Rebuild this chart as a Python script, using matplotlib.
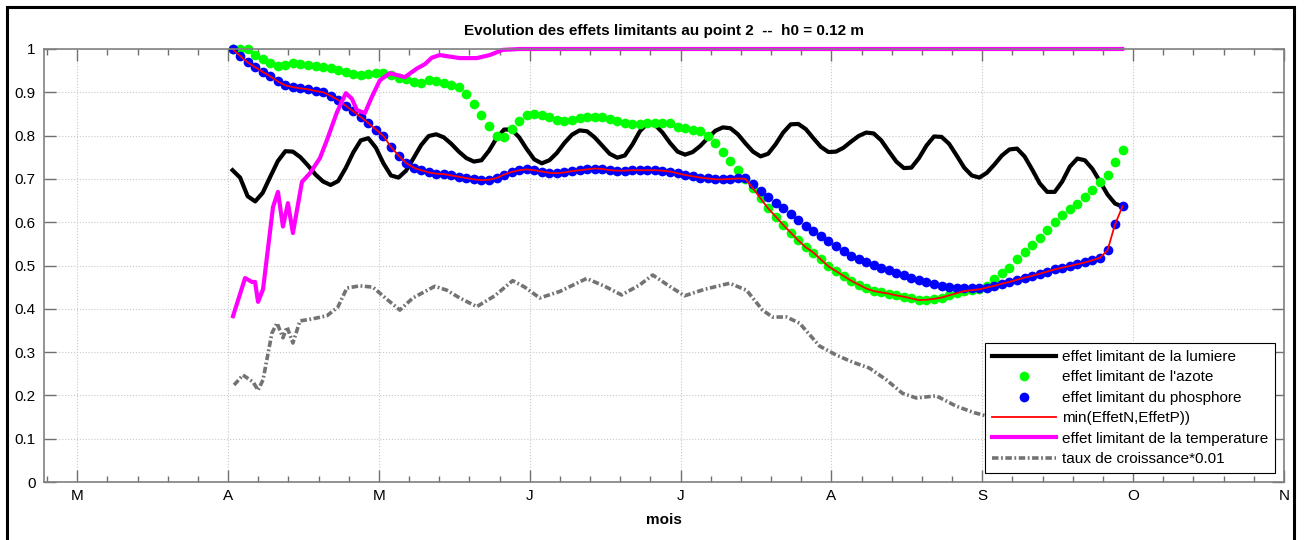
import numpy as np
import matplotlib
matplotlib.use("Agg")
import matplotlib.pyplot as plt
from matplotlib.ticker import MultipleLocator
from matplotlib.patches import Rectangle

plt.rcParams['font.family'] = ['Liberation Sans', 'DejaVu Sans']

# axe des temps en mois : 3 = mars ... 11 = novembre
mois_pos = [3, 4, 5, 6, 7, 8, 9, 10, 11]
mois_lab = ['M', 'A', 'M', 'J', 'J', 'A', 'S', 'O', 'N']
y_pos = [0, 0.1, 0.2, 0.3, 0.4, 0.5, 0.6, 0.7, 0.8, 0.9, 1.0]
y_lab = ['0', '0.1', '0.2', '0.3', '0.4', '0.5', '0.6', '0.7', '0.8', '0.9', '1']

# pas de temps commun (0.05 mois) pour lumiere, azote, phosphore
t = 4.03 + 0.05 * np.arange(119)

lumiere = [0.720, 0.703, 0.660, 0.648, 0.668, 0.705, 0.741, 0.764, 0.763, 0.750,
           0.731, 0.710, 0.694, 0.686, 0.695, 0.725, 0.761, 0.789, 0.794, 0.772,
           0.736, 0.708, 0.703, 0.719, 0.748, 0.778, 0.799, 0.803, 0.796, 0.781,
           0.763, 0.748, 0.740, 0.743, 0.765, 0.794, 0.814, 0.814, 0.796, 0.769,
           0.745, 0.736, 0.743, 0.760, 0.783, 0.802, 0.812, 0.810, 0.796, 0.777,
           0.758, 0.749, 0.754, 0.779, 0.810, 0.828, 0.825, 0.807, 0.783, 0.763,
           0.756, 0.762, 0.776, 0.794, 0.811, 0.819, 0.817, 0.803, 0.782, 0.763,
           0.752, 0.758, 0.780, 0.807, 0.826, 0.827, 0.815, 0.794, 0.774, 0.762,
           0.763, 0.772, 0.786, 0.799, 0.807, 0.805, 0.789, 0.764, 0.740, 0.725,
           0.726, 0.748, 0.777, 0.798, 0.797, 0.781, 0.754, 0.726, 0.708, 0.703,
           0.714, 0.733, 0.754, 0.768, 0.770, 0.752, 0.722, 0.690, 0.670, 0.670,
           0.694, 0.728, 0.747, 0.743, 0.723, 0.694, 0.664, 0.643, 0.636]

azote = [1.000, 1.000, 1.000, 0.985, 0.978, 0.968, 0.961, 0.963, 0.968, 0.965,
         0.962, 0.960, 0.958, 0.956, 0.952, 0.946, 0.942, 0.941, 0.942, 0.944,
         0.945, 0.940, 0.934, 0.930, 0.924, 0.922, 0.928, 0.926, 0.922, 0.918,
         0.912, 0.897, 0.873, 0.848, 0.822, 0.798, 0.796, 0.815, 0.833, 0.848,
         0.851, 0.848, 0.842, 0.837, 0.834, 0.837, 0.840, 0.842, 0.843, 0.842,
         0.838, 0.834, 0.829, 0.826, 0.827, 0.828, 0.829, 0.829, 0.828, 0.821,
         0.817, 0.812, 0.810, 0.800, 0.782, 0.762, 0.742, 0.720, 0.700, 0.678,
         0.655, 0.632, 0.613, 0.594, 0.576, 0.558, 0.542, 0.530, 0.514, 0.498,
         0.487, 0.476, 0.465, 0.456, 0.447, 0.441, 0.438, 0.435, 0.431, 0.428,
         0.424, 0.420, 0.421, 0.423, 0.426, 0.431, 0.436, 0.441, 0.443, 0.445,
         0.452, 0.469, 0.482, 0.494, 0.514, 0.531, 0.547, 0.564, 0.581, 0.600,
         0.617, 0.630, 0.643, 0.659, 0.674, 0.692, 0.710, 0.740, 0.766]

phosphore = [1.000, 0.984, 0.969, 0.958, 0.947, 0.937, 0.925, 0.916, 0.912, 0.909,
             0.907, 0.903, 0.900, 0.892, 0.882, 0.869, 0.856, 0.843, 0.829, 0.814,
             0.799, 0.774, 0.754, 0.737, 0.726, 0.720, 0.715, 0.712, 0.711, 0.708,
             0.705, 0.702, 0.699, 0.697, 0.698, 0.702, 0.710, 0.716, 0.720, 0.722,
             0.720, 0.717, 0.714, 0.713, 0.715, 0.718, 0.720, 0.722, 0.724, 0.723,
             0.720, 0.719, 0.719, 0.720, 0.720, 0.720, 0.720, 0.719, 0.717, 0.713,
             0.709, 0.706, 0.703, 0.701, 0.699, 0.699, 0.700, 0.701, 0.703, 0.688,
             0.672, 0.658, 0.645, 0.632, 0.619, 0.606, 0.592, 0.580, 0.568, 0.556,
             0.545, 0.534, 0.523, 0.515, 0.508, 0.502, 0.495, 0.489, 0.483, 0.477,
             0.472, 0.467, 0.462, 0.457, 0.453, 0.451, 0.449, 0.448, 0.448, 0.448,
             0.449, 0.453, 0.458, 0.462, 0.467, 0.472, 0.476, 0.481, 0.486, 0.491,
             0.495, 0.499, 0.503, 0.507, 0.512, 0.518, 0.535, 0.595, 0.637]

t_temp = [4.033, 4.113, 4.159, 4.179, 4.199, 4.232, 4.298, 4.331, 4.364, 4.397,
          4.430, 4.490, 4.543, 4.609, 4.656, 4.722, 4.781, 4.821, 4.854, 4.907,
          4.954, 5.007, 5.073, 5.119, 5.172, 5.252, 5.305, 5.351, 5.404, 5.536,
          5.649, 5.735, 5.821, 5.934, 9.927]
temperature = [0.383, 0.471, 0.462, 0.462, 0.416, 0.445, 0.635, 0.670, 0.590, 0.644,
               0.575, 0.693, 0.713, 0.748, 0.790, 0.854, 0.898, 0.885, 0.859, 0.852,
               0.890, 0.928, 0.944, 0.940, 0.935, 0.955, 0.965, 0.980, 0.986, 0.979,
               0.979, 0.986, 0.998, 1.000, 1.000]

t_croiss = [4.040, 4.099, 4.166, 4.199, 4.232, 4.291, 4.325, 4.364, 4.391, 4.430,
            4.477, 4.563, 4.656, 4.728, 4.788, 4.874, 4.960, 5.060, 5.139, 5.225,
            5.371, 5.450, 5.536, 5.649, 5.768, 5.887, 5.967, 6.066, 6.199, 6.377,
            6.497, 6.609, 6.728, 6.815, 6.927, 7.026, 7.159, 7.325, 7.437, 7.543,
            7.609, 7.702, 7.788, 7.921, 8.033, 8.139, 8.252, 8.364, 8.470, 8.563,
            8.695, 8.828, 8.947, 9.113, 9.444, 9.775, 9.927]
croissance = [0.224, 0.247, 0.231, 0.212, 0.236, 0.344, 0.367, 0.333, 0.358, 0.321,
              0.372, 0.377, 0.384, 0.404, 0.448, 0.453, 0.450, 0.420, 0.397, 0.425,
              0.452, 0.443, 0.425, 0.405, 0.430, 0.465, 0.450, 0.425, 0.440, 0.470,
              0.452, 0.432, 0.455, 0.478, 0.452, 0.430, 0.445, 0.459, 0.443, 0.397,
              0.381, 0.381, 0.367, 0.314, 0.293, 0.277, 0.263, 0.236, 0.205, 0.194,
              0.199, 0.175, 0.160, 0.145, 0.125, 0.105, 0.095]

effet_min = np.minimum(azote, phosphore)

fig = plt.figure(figsize=(13.06, 5.4), dpi=100)
ax = fig.add_axes([44 / 1306, 1 - 482 / 540, 1240 / 1306, 433 / 540])

ax.plot(t, lumiere, color='black', lw=3, label='effet limitant de la lumiere', clip_on=False)
ax.plot(t, azote, 'o', color='#00ff00', ms=7, mew=0, label="effet limitant de l'azote", clip_on=False)
ax.plot(t, phosphore, 'o', color='#0000ff', ms=7, mew=0, label='effet limitant du phosphore', clip_on=False)
ax.plot(t, effet_min, color='red', lw=1.3, label='min(EffetN,EffetP))', clip_on=False)
ax.plot(t_temp, temperature, color='magenta', lw=3, label='effet limitant de la temperature', clip_on=False)
ax.plot(t_croiss, croissance, color='#737373', lw=2.6, ls=(0, (1.8, 0.7, 0.5, 0.7)),
        label='taux de croissance*0.01')

ax.set_xlim(2.78, 11)
ax.set_ylim(0, 1)
ax.set_xticks(mois_pos)
ax.set_xticklabels(mois_lab)
ax.set_yticks(y_pos)
ax.set_yticklabels(y_lab)
ax.xaxis.set_minor_locator(MultipleLocator(0.2))

ax.grid(True, which='major', ls=':', color='#c8c8c8', lw=0.8)
ax.tick_params(which='both', direction='in', top=True, right=True, color='#707070',
               labelsize=11, width=1)
ax.tick_params(which='major', length=8.8, pad=5)
ax.tick_params(which='minor', length=4.2)
ax.tick_params(axis='y', which='major', pad=6)
for s in ax.spines.values():
    s.set_color('#808080')
    s.set_linewidth(1.2)

ax.set_title('Evolution des effets limitants au point 2  --  h0 = 0.12 m',
             fontsize=11, fontweight='bold', pad=10)
ax.set_xlabel('mois', fontsize=11, fontweight='bold', labelpad=7)

leg = ax.legend(loc='lower right', bbox_to_anchor=(0.9927, 0.0208), borderaxespad=0,
                fontsize=11, numpoints=1, handlelength=4.2, handletextpad=0.4,
                labelspacing=0.42, fancybox=False, framealpha=1, borderpad=0.45)
leg.get_frame().set_edgecolor('black')
leg.get_frame().set_linewidth(0.8)

fig.patches.append(Rectangle((7 / 1306, -0.05), 1287 / 1306, 1.05 - 7 / 540,
                             transform=fig.transFigure, fill=False, ec='black', lw=2.2))

fig.savefig('out.png', dpi=100)
